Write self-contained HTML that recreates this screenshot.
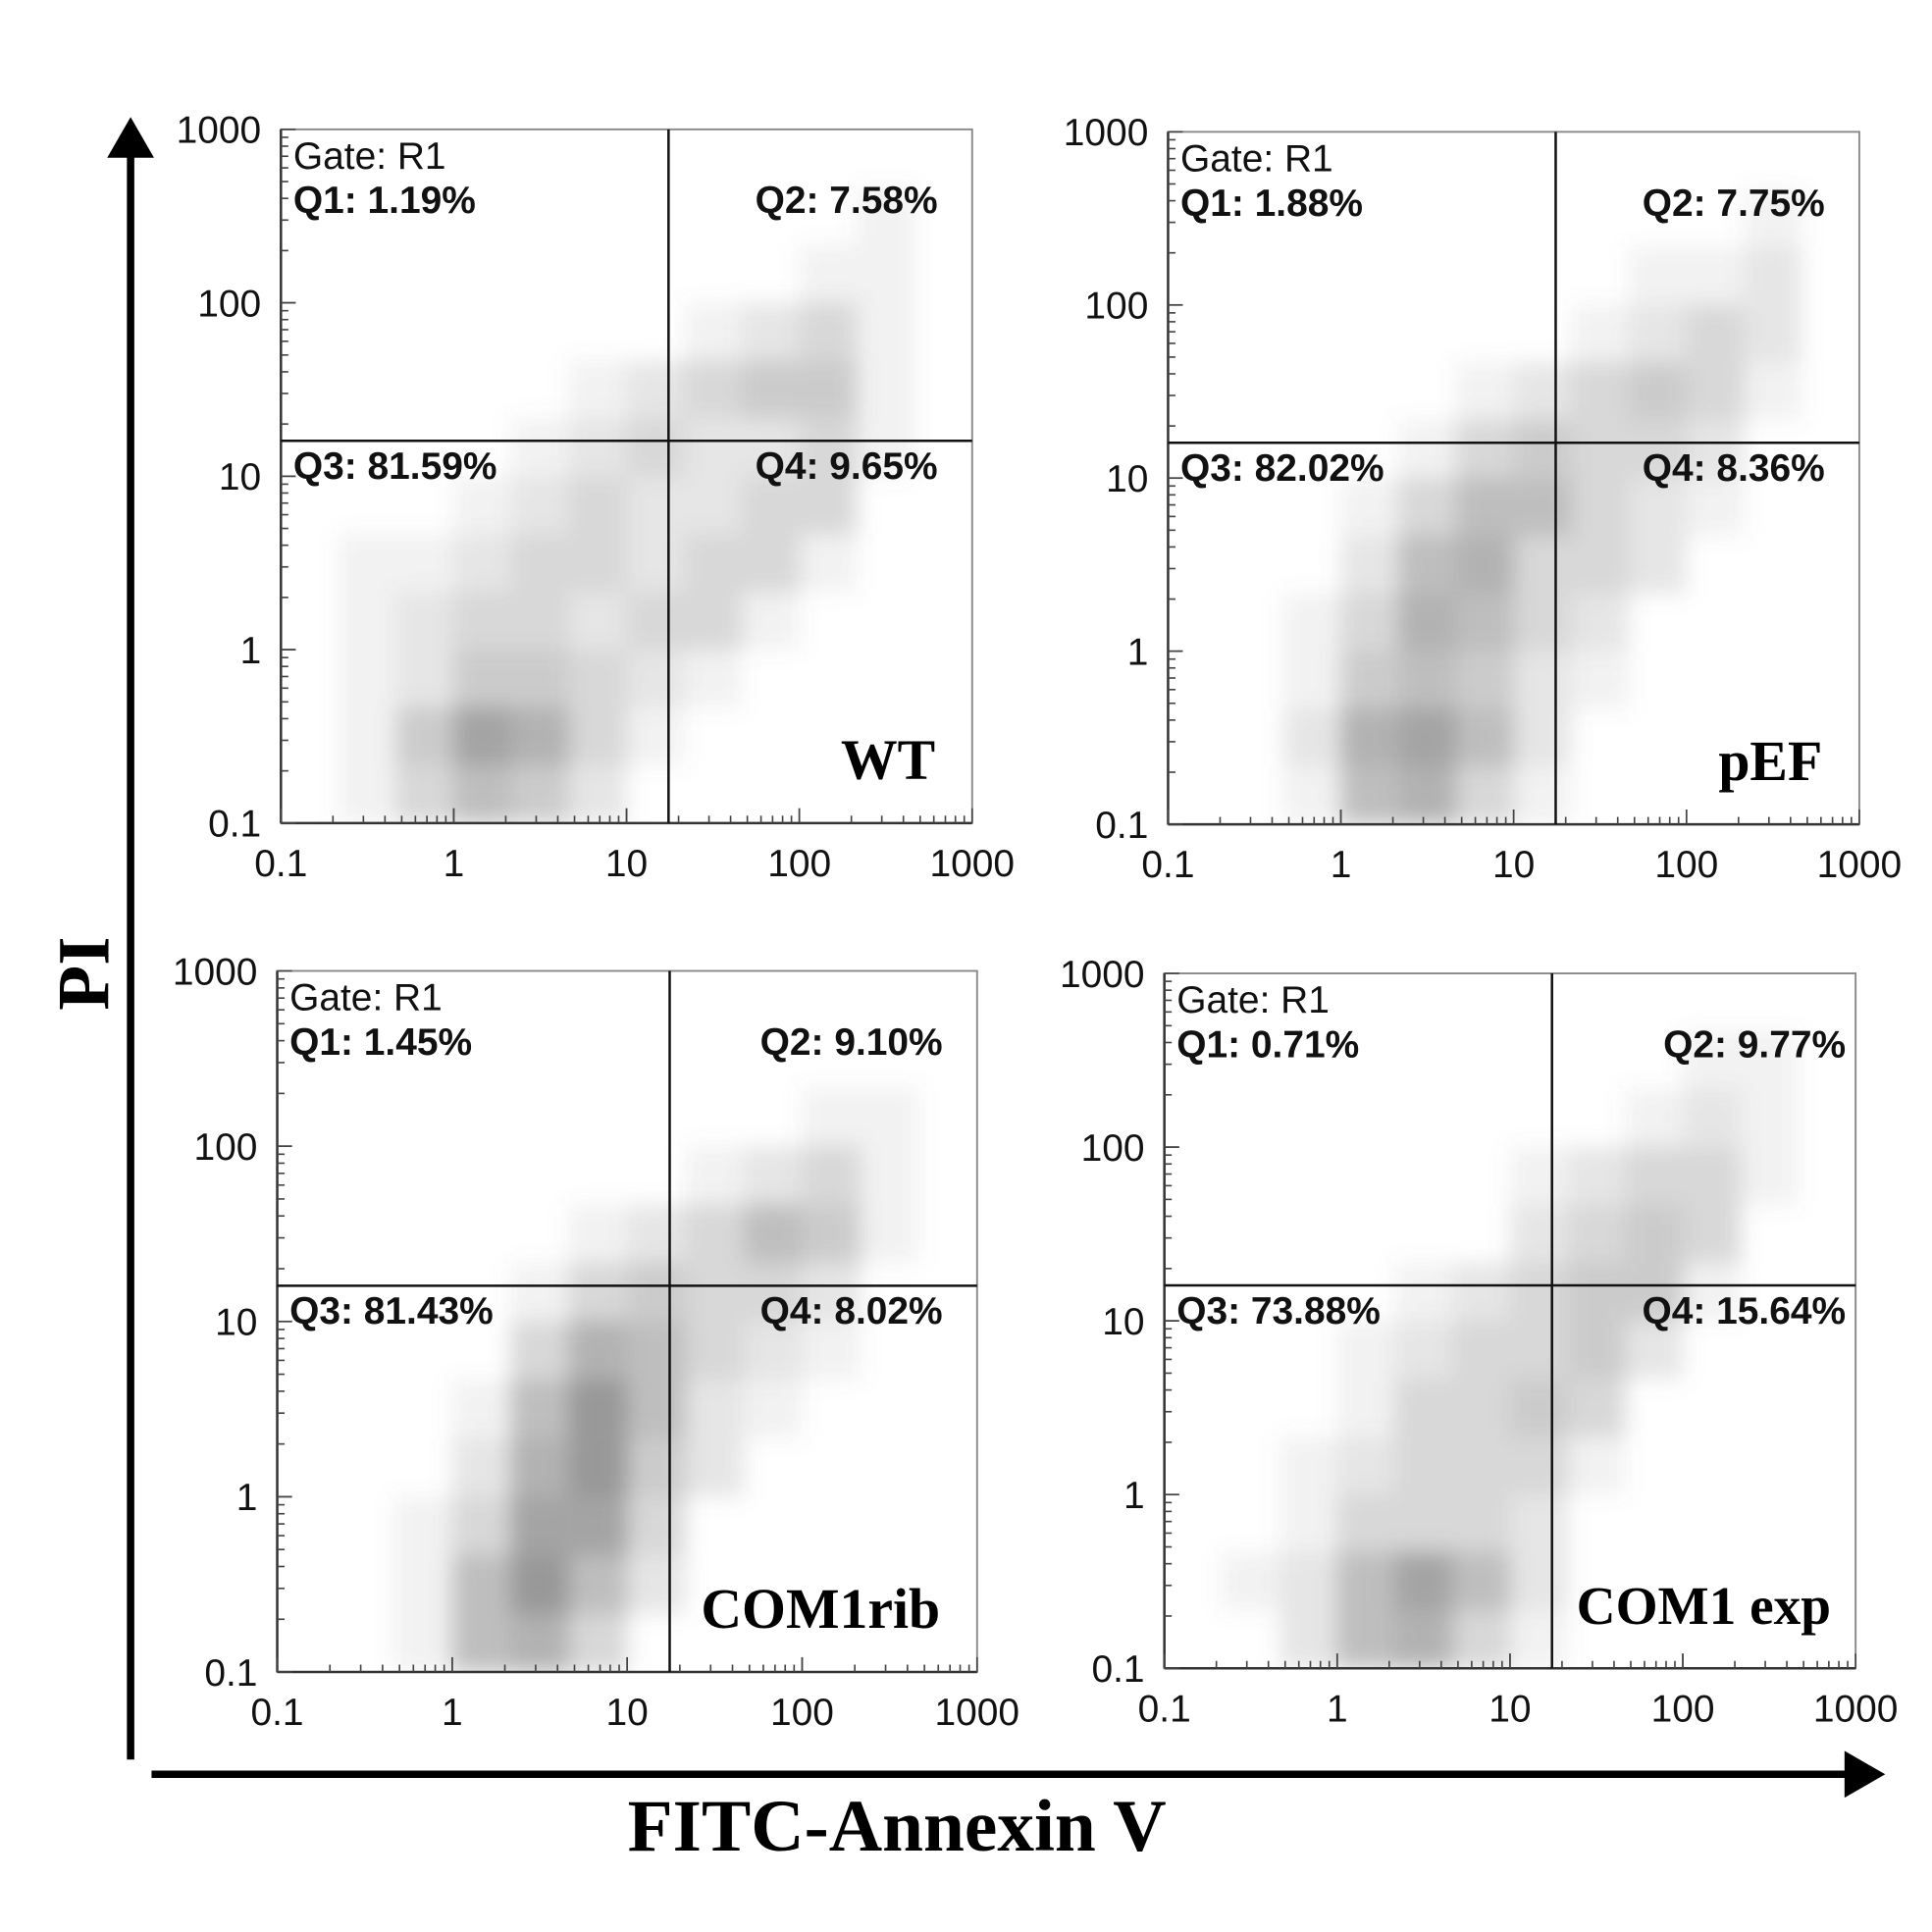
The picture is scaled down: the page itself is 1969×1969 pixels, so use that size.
<!DOCTYPE html>
<html><head><meta charset="utf-8"><style>
html,body{margin:0;padding:0;background:#fff}
svg{display:block}
</style></head><body>
<svg id="fig" xmlns="http://www.w3.org/2000/svg" width="1969" height="1969" viewBox="0 0 1568 1568">
<defs><filter id="soft" x="-10%" y="-10%" width="120%" height="120%"><feGaussianBlur stdDeviation="9"/></filter></defs>
<rect width="1568" height="1568" fill="#fff"/>
<g id="panels"></g>
<g>
<line x1="106" y1="1428" x2="106" y2="120" stroke="#000" stroke-width="6"/>
<polygon points="106,95 87,128 125,128" fill="#000"/>
</g>
<g>
<line x1="123" y1="1440" x2="1500" y2="1440" stroke="#000" stroke-width="6"/>
<polygon points="1530,1440 1497,1421 1497,1459" fill="#000"/>
</g>
<text transform="translate(88,790) rotate(-90)" text-anchor="middle" font-family="Liberation Serif, serif" font-weight="bold" font-size="60">PI</text>
<text x="728" y="1502" text-anchor="middle" font-family="Liberation Serif, serif" font-weight="bold" font-size="60">FITC-Annexin V</text>
</svg>
<script>
// Density (0-9) per log bin; rows from top (y 464-1000) to bottom (y 0.1-0.21); columns x 0.1 -> 1000, 3 bins/decade
const wtDensity = [
[0,0,0,0,0,0,0,0,0,0,0,0],
[0,0,0,0,0,0,0,0,0,0,1,0],
[0,0,0,0,0,0,0,0,0,1,1,0],
[0,0,0,0,0,0,0,1,2,3,1,0],
[0,0,0,0,0,1,2,3,4,4,1,0],
[0,0,0,0,1,2,3,2,2,3,1,0],
[0,0,0,1,2,3,2,2,3,3,0,0],
[0,1,1,2,3,3,2,3,3,1,0,0],
[0,1,2,3,3,2,3,3,1,0,0,0],
[0,1,2,4,4,3,2,1,0,0,0,0],
[0,1,4,7,6,3,1,0,0,0,0,0],
[0,1,3,5,4,2,0,0,0,0,0,0]];
const pefDensity = [
[0,0,0,0,0,0,0,0,0,0,0,0],
[0,0,0,0,0,0,0,0,0,0,1,0],
[0,0,0,0,0,0,0,0,1,1,2,0],
[0,0,0,0,0,0,0,1,2,3,2,0],
[0,0,0,0,0,1,2,3,4,3,1,0],
[0,0,0,0,1,3,4,3,3,2,0,0],
[0,0,0,1,3,5,5,3,2,1,0,0],
[0,0,0,2,5,6,3,3,2,0,0,0],
[0,0,1,3,6,5,3,2,0,0,0,0],
[0,0,1,4,5,4,2,1,0,0,0,0],
[0,0,2,6,7,5,2,0,0,0,0,0],
[0,0,1,5,6,3,1,0,0,0,0,0]];
const ribDensity = [
[0,0,0,0,0,0,0,0,0,0,0,0],
[0,0,0,0,0,0,0,0,0,0,0,0],
[0,0,0,0,0,0,0,0,0,1,1,0],
[0,0,0,0,0,0,0,1,2,3,1,0],
[0,0,0,0,0,1,2,3,5,4,1,0],
[0,0,0,0,1,3,4,3,3,2,0,0],
[0,0,0,0,3,6,5,3,2,1,0,0],
[0,0,0,1,5,8,5,2,1,0,0,0],
[0,0,0,2,6,8,4,2,0,0,0,0],
[0,0,1,3,7,7,3,0,0,0,0,0],
[0,0,1,5,8,5,2,0,0,0,0,0],
[0,0,1,5,6,3,0,0,0,0,0,0]];
const expDensity = [
[0,0,0,0,0,0,0,0,0,0,0,0],
[0,0,0,0,0,0,0,0,0,1,1,0],
[0,0,0,0,0,0,0,0,1,2,1,0],
[0,0,0,0,0,0,1,2,3,3,1,0],
[0,0,0,0,0,0,2,3,4,3,0,0],
[0,0,0,0,1,2,3,4,4,1,0,0],
[0,0,0,1,2,3,3,4,2,0,0,0],
[0,0,0,1,3,3,4,3,0,0,0,0],
[0,0,1,2,3,3,3,1,0,0,0,0],
[0,0,1,3,3,3,2,0,0,0,0,0],
[0,1,2,5,7,5,2,0,0,0,0,0],
[0,0,2,5,6,3,1,0,0,0,0,0]];
const tickLabels = ["0.1","1","10","100","1000"];
const panelNames = ["WT","pEF","COM1rib","COM1 exp"];
const q1Values = ["1.19%","1.88%","1.45%","0.71%"];
const q2Values = ["7.58%","7.75%","9.10%","9.77%"];
const q3Values = ["81.59%","82.02%","81.43%","73.88%"];
const q4Values = ["9.65%","8.36%","8.02%","15.64%"];
const gateX = [17.5,17.5,17.5,17.5];
const gateY = [16,16,16,16];

const NS="http://www.w3.org/2000/svg";
const boxes=[{l:228,r:789,t:105,b:668},{l:948,r:1509,t:107,b:669},{l:225,r:793,t:788,b:1357},{l:945,r:1506,t:790,b:1354}];
const densities=[wtDensity,pefDensity,ribDensity,expDensity];
function mk(tag,attrs,parent){const e=document.createElementNS(NS,tag);for(const k in attrs)e.setAttribute(k,attrs[k]);parent.appendChild(e);return e;}
const root=document.getElementById('panels');
boxes.forEach((bx,i)=>{
  const g=mk('g',{},root);
  
  
  const xs=v=>bx.l+(Math.log10(v)+1)/4*(bx.r-bx.l);
  const ys=v=>bx.b-(Math.log10(v)+1)/4*(bx.b-bx.t);
  const cp='clip'+i;
  const defs=mk('defs',{},g);
  const clip=mk('clipPath',{id:cp},defs);
  mk('rect',{x:bx.l,y:bx.t,width:bx.r-bx.l,height:bx.b-bx.t},clip);
  const outer=mk('g',{'clip-path':'url(#'+cp+')'},g);
  const dg=mk('g',{filter:'url(#soft)'},outer);
  
  
  const d=densities[i];
  for(let r=0;r<d.length;r++)for(let c=0;c<d[r].length;c++){
    const v=d[r][c]; if(!v)continue;
    const x0=xs(Math.pow(10,-1+c/3)),x1=xs(Math.pow(10,-1+(c+1)/3));
    const yb=11-r;
    const y0=ys(Math.pow(10,-1+(yb+1)/3)),y1=ys(Math.pow(10,-1+yb/3));
    const cell=mk('rect',{x:x0,y:y0,width:x1-x0,height:y1-y0,fill:'#777','fill-opacity':Math.min(0.8,v*0.095)},dg);
    
    
  }
  const fr=mk('rect',{x:bx.l,y:bx.t,width:bx.r-bx.l,height:bx.b-bx.t,fill:'none',stroke:'#888','stroke-width':1.5},g);
  
  
  mk('line',{x1:bx.l,y1:bx.b,x2:bx.r,y2:bx.b,stroke:'#333','stroke-width':2},g);
  mk('line',{x1:bx.l,y1:bx.t,x2:bx.l,y2:bx.b,stroke:'#333','stroke-width':2},g);
  for(let dec=0;dec<4;dec++){
    for(let m=1;m<=10;m++){
      const v=Math.pow(10,dec-1)*m; const len=(m===1||m===10)?12:6;
      mk('line',{x1:xs(v),y1:bx.b,x2:xs(v),y2:bx.b-len,stroke:'#444','stroke-width':1.3},g);
      mk('line',{x1:bx.l,y1:ys(v),x2:bx.l+len,y2:ys(v),stroke:'#444','stroke-width':1.3},g);
    }
  }
  tickLabels.forEach((t,k)=>{
    const v=Math.pow(10,k-1);
    const tx=mk('text',{x:xs(v),y:bx.b+43,'text-anchor':'middle','font-family':'Liberation Sans, sans-serif','font-size':31,fill:'#111'},g);
    tx.textContent=t;
    
    
    const ty=mk('text',{x:bx.l-16,y:ys(v)+11,'text-anchor':'end','font-family':'Liberation Sans, sans-serif','font-size':31,fill:'#111'},g);
    ty.textContent=t;
    
    
  });
  const gv=mk('line',{x1:xs(gateX[i]),y1:bx.t,x2:xs(gateX[i]),y2:bx.b,stroke:'#111','stroke-width':2},g);
  
  
  const gh=mk('line',{x1:bx.l,y1:ys(gateY[i]),x2:bx.r,y2:ys(gateY[i]),stroke:'#111','stroke-width':2},g);
  
  
  const lab=(txt,x,y,anchor,bold,name)=>{const t=mk('text',{x:x,y:y,'text-anchor':anchor,'font-family':'Liberation Sans, sans-serif','font-size':31,'font-weight':bold?'bold':'normal',fill:'#111'},g);t.textContent=txt;};
  const gy=ys(gateY[i]);
  const rx=bx.r-28+(i===3?20:0);
  lab('Gate: R1',bx.l+10,bx.t+32,'start',false,'gate-label');
  lab('Q1: '+q1Values[i],bx.l+10,bx.t+68,'start',true,'q1-label');
  lab('Q2: '+q2Values[i],rx,bx.t+68,'end',true,'q2-label');
  lab('Q3: '+q3Values[i],bx.l+10,gy+31,'start',true,'q3-label');
  lab('Q4: '+q4Values[i],rx,gy+31,'end',true,'q4-label');
  const pn=mk('text',{x:bx.r-(i===3?20:30),y:bx.b-36,'text-anchor':'end','font-family':'Liberation Serif, serif','font-size':(i===3?44:46),'font-weight':'bold',fill:'#000'},g);
  pn.textContent=panelNames[i];
  
  
});
</script>
</body></html>
